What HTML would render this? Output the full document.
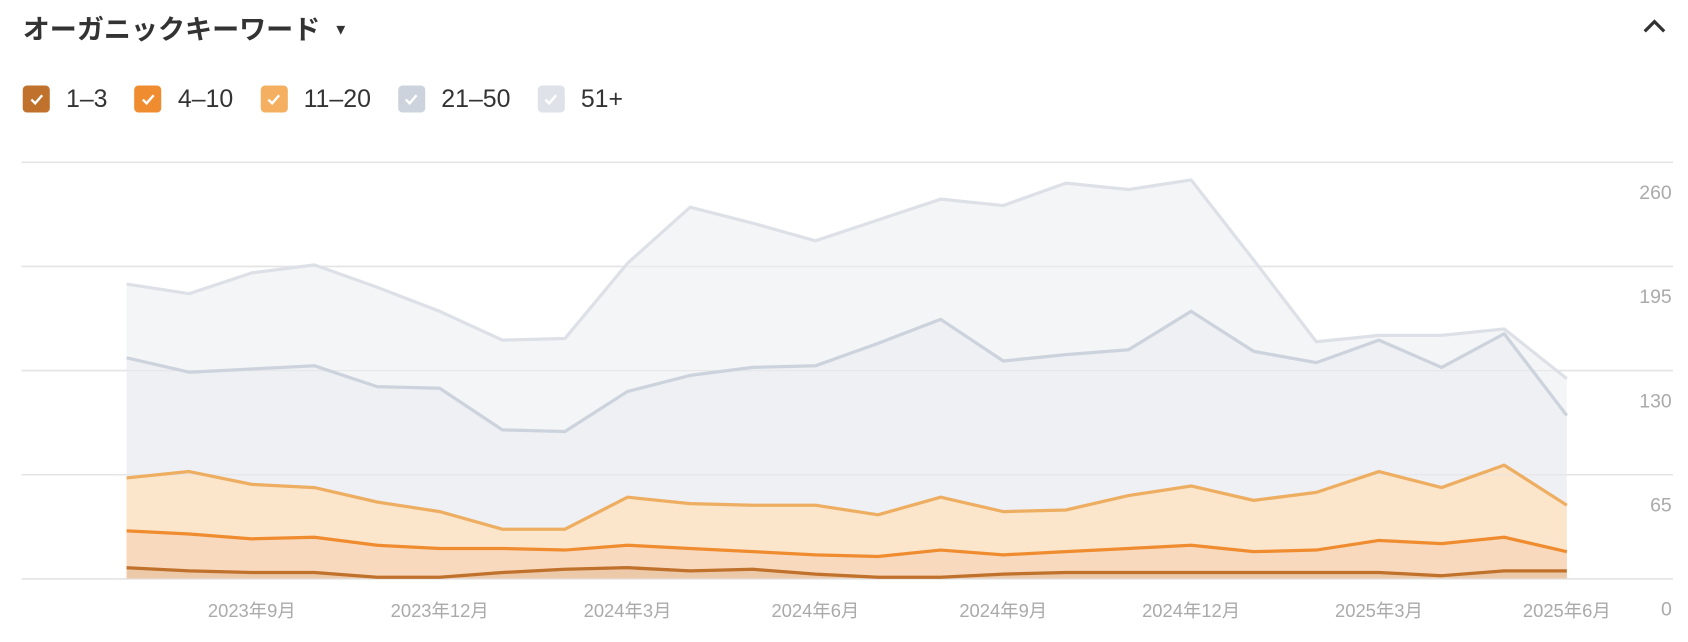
<!DOCTYPE html>
<html><head><meta charset="utf-8">
<style>
html,body{margin:0;padding:0;background:#fff;width:1688px;height:642px;overflow:hidden}
#wrap{position:absolute;left:0;top:0;width:1560px;height:593px;transform:scale(1.08205);transform-origin:0 0;font-family:"Liberation Sans","Noto Sans CJK JP",sans-serif}
.title{position:absolute;left:21px;top:8px;font-size:25px;font-weight:bold;color:#333;white-space:nowrap}
.caret{font-size:14px;margin-left:12px;vertical-align:4px}
.chev{position:absolute;left:1517px;top:14px}
.legend{position:absolute;left:21px;top:78px;display:flex;align-items:center;font-size:23px;color:#333}
.item{display:flex;align-items:center;margin-right:25px}
.box{width:25px;height:25px;border-radius:4px;margin-right:15px;display:flex;align-items:center;justify-content:center}
svg text{font-family:"Liberation Sans","Noto Sans CJK JP",sans-serif}
</style></head><body>
<div id="wrap">
<div class="title">オーガニックキーワード<span class="caret">▼</span></div>
<svg class="chev" width="24" height="20"><path d="M3 15 L12 6 L21 15" fill="none" stroke="#333" stroke-width="3"/></svg>
<div class="legend">
 <div class="item"><div class="box" style="background:#c0712c"><svg width="14" height="12"><path d="M2 6 L5.5 9.5 L12 2" fill="none" stroke="#fff" stroke-width="2.2"/></svg></div>1–3</div>
 <div class="item"><div class="box" style="background:#f08c30"><svg width="14" height="12"><path d="M2 6 L5.5 9.5 L12 2" fill="none" stroke="#fff" stroke-width="2.2"/></svg></div>4–10</div>
 <div class="item"><div class="box" style="background:#f4b060"><svg width="14" height="12"><path d="M2 6 L5.5 9.5 L12 2" fill="none" stroke="#fff" stroke-width="2.2"/></svg></div>11–20</div>
 <div class="item"><div class="box" style="background:#cdd3dc"><svg width="14" height="12"><path d="M2 6 L5.5 9.5 L12 2" fill="none" stroke="#fff" stroke-width="2.2"/></svg></div>21–50</div>
 <div class="item"><div class="box" style="background:#dfe2e8"><svg width="14" height="12"><path d="M2 6 L5.5 9.5 L12 2" fill="none" stroke="#fff" stroke-width="2.2"/></svg></div>51+</div>
</div>
<svg id="chart" width="1560" height="593" style="position:absolute;left:0;top:0"></svg>
</div>
<script>
const months = ["2023-07","2023-08","2023-09","2023-10","2023-11","2023-12","2024-01","2024-02","2024-03","2024-04","2024-05","2024-06","2024-07","2024-08","2024-09","2024-10","2024-11","2024-12","2025-01","2025-02","2025-03","2025-04","2025-05","2025-06"];
const pos1_3 = [7,5,4,4,1,1,4,6,7,5,6,3,1,1,3,4,4,4,4,4,4,2,5,5];
const pos4_10 = [23,23,21,22,20,18,15,12,14,14,11,12,13,17,12,13,15,17,13,14,20,20,21,12];
const pos11_20 = [33,39,34,31,27,23,12,13,30,28,29,31,26,33,27,26,33,37,32,36,43,35,45,29];
const pos21_50 = [75,62,72,76,72,77,62,61,66,80,86,87,107,111,94,97,91,109,93,81,82,75,82,56];
const pos51 = [46,49,60,63,62,48,56,58,80,105,90,78,77,75,97,107,100,82,57,13,3,20,3,23];
const yTicks = [0,65,130,195,260];
const xTickIdx = [2,5,8,11,14,17,20,23];
const xTickLabels = ["2023年9月","2023年12月","2024年3月","2024年6月","2024年9月","2024年12月","2025年3月","2025年6月"];

const NS="http://www.w3.org/2000/svg";
const chartSvg=document.getElementById('chart');
const X0=117,X1=1448,Y0=535,YTOP=150,YMAX=260;
const xScale=i=>X0+i*(X1-X0)/(months.length-1);
const yScale=v=>Y0-v*(Y0-YTOP)/YMAX;
function mk(t,a){const e=document.createElementNS(NS,t);for(const k in a)e.setAttribute(k,a[k]);chartSvg.appendChild(e);return e;}
yTicks.forEach(v=>{
  const l=mk('line',{x1:20,x2:1546,y1:yScale(v),y2:yScale(v),stroke:'#e6e6e6','stroke-width':1.5});
  
  
});
const order=[pos1_3,pos4_10,pos11_20,pos21_50,pos51];
function stackTop(arr){const k=order.indexOf(arr);return months.map((m,i)=>{let s=0;for(let j=0;j<=k;j++)s+=order[j][i];return s;});}
const series=[
 {name:'51-plus',d:pos51,fill:'#f4f5f7',line:'#dde1e7'},
 {name:'21-50',d:pos21_50,fill:'#eef0f4',line:'#cdd3dc'},
 {name:'11-20',d:pos11_20,fill:'#fbe5cb',line:'#eeae62'},
 {name:'4-10',d:pos4_10,fill:'#f9d9bd',line:'#f08c30'},
 {name:'1-3',d:pos1_3,fill:'#ecc9a9',line:'#c0712c'}
];
series.forEach(s=>{
  const tp=stackTop(s.d);
  const pts=tp.map((v,i)=>xScale(i)+','+yScale(v)).join(' ');
  const a=mk('polygon',{points:pts+' '+xScale(months.length-1)+','+Y0+' '+xScale(0)+','+Y0,fill:s.fill});
  
  
});
yTicks.forEach(v=>{
  const l=mk('line',{x1:20,x2:1546,y1:yScale(v),y2:yScale(v),stroke:'#e3e3e3','stroke-width':1.2,'stroke-opacity':0.7});
  
  
});
series.forEach(s=>{
  const tp=stackTop(s.d);
  const l=mk('polyline',{points:tp.map((v,i)=>xScale(i)+','+yScale(v)).join(' '),fill:'none',stroke:s.line,'stroke-width':3,'stroke-linejoin':'round'});
  
  
});
yTicks.forEach(v=>{
  const t=mk('text',{x:1545,y:yScale(v)+34,'text-anchor':'end','font-size':18,fill:'#aaa'});
  t.textContent=v;
  
  
});
xTickIdx.forEach((idx,k)=>{
  const t=mk('text',{x:xScale(idx),y:570,'text-anchor':'middle','font-size':17,fill:'#aaa'});
  t.textContent=xTickLabels[k];
  
  
});
</script>
</body></html>
